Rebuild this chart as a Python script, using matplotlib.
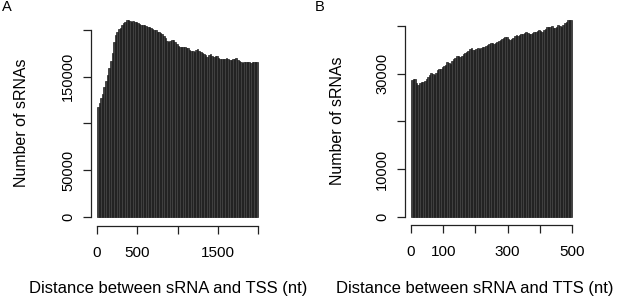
import numpy as np
import matplotlib
matplotlib.use("Agg")
import matplotlib.pyplot as plt

plt.rcParams['font.family'] = ['Liberation Sans', 'DejaVu Sans']


# Data: sRNA counts per distance bin
# Panel A - distance to TSS, 20 nt bins from 0 to 2000
tss_bin_width = 20
tss_counts = [
    118000, 121500, 127000, 132000, 138500, 145000, 151500, 159000, 167000, 175000,
    187000, 194500, 198000, 200500, 202500, 205000, 207500, 209000, 210500, 211000,
    210000, 209000, 209500, 208800, 208000, 207000, 206500, 205200, 205500, 205000,
    204500, 203500, 202800, 202000, 201500, 200200, 199500, 198300, 197800, 196500,
    195500, 193000, 191000, 188500, 187500, 187800, 189000, 189500, 187000, 185500,
    183000, 182000, 181500, 182200, 182000, 181000, 180200, 179000, 178000, 177500,
    176800, 178500, 179300, 178000, 176800, 175500, 173800, 173000, 171600, 172800,
    174000, 172500, 171400, 171800, 172300, 170500, 168700, 168900, 168500, 169200,
    169700, 168800, 168000, 168400, 168800, 169300, 169800, 168000, 166300, 165800,
    165000, 165600, 166200, 165800, 165200, 165000, 166000, 166100, 165800, 166100,
]

# Panel B - distance to TTS, 5 nt bins from 0 to 500
tts_bin_width = 5
tts_counts = [
    28600, 28900, 28800, 28000, 27700, 28100, 28300, 28200, 28400, 28900,
    29300, 29700, 30100, 30000, 29800, 30200, 30700, 30900, 31000, 31300,
    31700, 31900, 32400, 32300, 32100, 32600, 33100, 33300, 33800, 33600,
    33500, 33800, 34200, 34300, 34500, 34800, 35100, 35300, 35000, 34900,
    35200, 35300, 35200, 35300, 35500, 35600, 35800, 36000, 36200, 36500,
    36400, 36300, 36500, 36700, 36900, 37000, 37200, 37400, 37600, 37700,
    37300, 37000, 37200, 37400, 37800, 38100, 38000, 38100, 38300, 38400,
    38600, 38800, 38600, 38400, 38400, 38500, 38700, 38800, 39000, 39100,
    38900, 38800, 39100, 39300, 39700, 39800, 39800, 39900, 39600, 39500,
    39800, 40200, 40000, 39800, 40100, 40600, 40900, 41200, 41300, 41200,
]

# Axis ticks (R drops labels that would overlap)
tss_xticks = [0, 500, 1000, 1500, 2000]
tss_xticklabels = ['0', '500', '', '1500', '']
tss_yticks = [0, 50000, 100000, 150000, 200000]
tss_yticklabels = ['0', '50000', '', '150000', '']

tts_xticks = [0, 100, 200, 300, 400, 500]
tts_xticklabels = ['0', '100', '', '300', '', '500']
tts_yticks = [0, 10000, 20000, 30000, 40000]
tts_yticklabels = ['0', '10000', '', '30000', '']


W, H = 617, 305
fig = plt.figure(figsize=(W / 100, H / 100), dpi=100)


def px_axes(left, top, right, bottom):
    return fig.add_axes([left / W, 1 - bottom / H, (right - left) / W, (bottom - top) / H])


def draw_panel(ax, counts, binw, xticks, xticklabels, yticks, yticklabels,
               xlim, ylim, xlabel, xlab_px, ylab_px, letter, letter_px):
    counts = np.asarray(counts)
    left_edges = np.arange(len(counts)) * binw
    ax.bar(left_edges, counts, width=binw, align='edge',
           color='#404040', edgecolor='#111111', linewidth=0.45)

    ax.set_xlim(*xlim)
    ax.set_ylim(*ylim)

    for side in ['top', 'right']:
        ax.spines[side].set_visible(False)
    ax.spines['left'].set_bounds(yticks[0], yticks[-1])
    ax.spines['bottom'].set_bounds(xticks[0], xticks[-1])
    for side in ['left', 'bottom']:
        ax.spines[side].set_linewidth(0.9)
        ax.spines[side].set_color('#222222')

    ax.set_xticks(xticks)
    ax.set_xticklabels(xticklabels, fontsize=11)
    ax.set_yticks(yticks)
    ax.set_yticklabels(yticklabels, rotation=90, va='center', fontsize=10.5)
    ax.tick_params(length=5.5, width=0.9, color='#222222')
    ax.tick_params(axis='x', pad=9)
    ax.tick_params(axis='y', pad=5.5)

    ax.set_xlabel(xlabel, fontsize=12, ha='center', va='center')
    ax.xaxis.set_label_coords(xlab_px[0] / W, 1 - xlab_px[1] / H, transform=fig.transFigure)
    ax.set_ylabel('Number of sRNAs', fontsize=11.5, ha='center', va='center',
                  rotation_mode='default')
    ax.yaxis.set_label_coords(ylab_px[0] / W, 1 - ylab_px[1] / H, transform=fig.transFigure)

    fig.text(letter_px[0] / W, 1 - letter_px[1] / H, letter, fontsize=10.5,
             ha='left', va='center')


ax_a = px_axes(90.6, 11.8, 264.4, 225.9)
draw_panel(ax_a, tss_counts, tss_bin_width, tss_xticks, tss_xticklabels,
           tss_yticks, tss_yticklabels, (-80, 2080), (-9500, 219400),
           'Distance between sRNA and TSS (nt)', (168.5, 288.5), (22, 123),
           'A', (2, 7))

ax_b = px_axes(404.6, 11.9, 578.4, 225.3)
draw_panel(ax_b, tts_counts, tts_bin_width, tts_xticks, tts_xticklabels,
           tts_yticks, tts_yticklabels, (-20, 520), (-1800, 42950),
           'Distance between sRNA and TTS (nt)', (475, 288.5), (337, 121),
           'B', (315, 7))

fig.savefig('out.png', dpi=100)
